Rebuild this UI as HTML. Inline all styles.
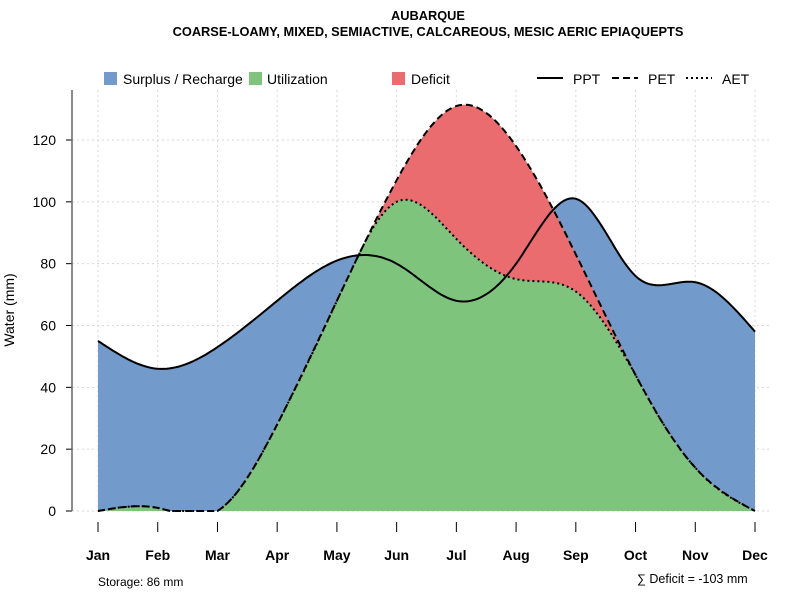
<!DOCTYPE html>
<html><head><meta charset="utf-8"><style>
body{margin:0;background:#fff;font-family:"Liberation Sans",sans-serif}
svg text{font-family:"Liberation Sans",sans-serif}
</style></head><body>
<svg id="c" width="800" height="600" xmlns="http://www.w3.org/2000/svg">
<text x="428" y="20" text-anchor="middle" font-size="12.8" font-weight="bold">AUBARQUE</text>
<text x="428" y="36" text-anchor="middle" font-size="12.8" font-weight="bold">COARSE-LOAMY, MIXED, SEMIACTIVE, CALCAREOUS, MESIC AERIC EPIAQUEPTS</text>
<g id="grid"></g><g id="areas"></g><g id="lines"></g><g id="axes"></g>
<g font-size="14">
<rect x="104" y="72" width="13" height="13" fill="#729ACA"/>
<text x="123" y="84">Surplus / Recharge</text>
<rect x="249" y="72" width="13" height="13" fill="#7FC47D"/>
<text x="267" y="84">Utilization</text>
<rect x="392" y="72" width="13" height="13" fill="#EA6C6E"/>
<text x="411" y="84">Deficit</text>
<line x1="537" y1="78" x2="563" y2="78" stroke="#000" stroke-width="2"/>
<text x="573" y="84">PPT</text>
<line x1="612" y1="78" x2="638" y2="78" stroke="#000" stroke-width="2" stroke-dasharray="7,4"/>
<text x="648" y="84">PET</text>
<line x1="686" y1="78" x2="712" y2="78" stroke="#000" stroke-width="2" stroke-dasharray="2,3"/>
<text x="722" y="84">AET</text>
</g>
<text x="14" y="310" font-size="14" text-anchor="middle" transform="rotate(-90 14 310)">Water (mm)</text>
<text x="98" y="586" font-size="12">Storage: 86 mm</text>
<text x="637" y="583" font-size="12.5">∑ Deficit = -103 mm</text>
</svg>
<script>
const months=["Jan","Feb","Mar","Apr","May","Jun","Jul","Aug","Sep","Oct","Nov","Dec"];
const ppt=[55,46,53,68,81,80,68,80,101,76,74,58];
const pet=[0,1,0,28,68,107,131,118,83,44,14,0];
const aet=[0,1,0,28,68,100,88,75,71,44,14,0];
const yTicks=[0,20,40,60,80,100,120];
const NS="http://www.w3.org/2000/svg";
const X=i=>98+i*(755-98)/11, Y=v=>511-v*(511-140)/120;
function mk(p,t,a){const e=document.createElementNS(NS,t);for(const k in a)e.setAttribute(k,a[k]);p.appendChild(e);return e;}
function spline(y){const n=y.length,m=new Array(n).fill(0),a=[],b=[],c=[],d=[];
 for(let i=1;i<n-1;i++){a[i]=1;b[i]=4;c[i]=1;d[i]=6*(y[i+1]-2*y[i]+y[i-1]);}
 const cp=[],dp=[];cp[1]=c[1]/b[1];dp[1]=d[1]/b[1];
 for(let i=2;i<n-1;i++){const den=b[i]-a[i]*cp[i-1];cp[i]=c[i]/den;dp[i]=(d[i]-a[i]*dp[i-1])/den;}
 for(let i=n-2;i>=1;i--)m[i]=dp[i]-(i<n-2?cp[i]*m[i+1]:0);
 const out=[];for(let i=0;i<n-1;i++)for(let s=0;s<20;s++){const t=s/20;
  out.push((1-t)*y[i]+t*y[i+1]+((1-t)**3-(1-t))*m[i]/6+(t**3-t)*m[i+1]/6);}
 out.push(y[n-1]);return out;}
const sx=k=>X(k/20);
const sP=spline(ppt),sE=spline(pet).map(v=>Math.max(0,v)),sA=spline(aet).map((v,k)=>Math.min(Math.max(0,v),sE[k]));
const pts=s=>s.map((v,k)=>sx(k).toFixed(1)+","+Y(v).toFixed(1)).join(" ");
const area=s=>X(0)+","+Y(0)+" "+pts(s)+" "+X(11)+","+Y(0);
const g=document.getElementById("grid"),ar=document.getElementById("areas"),ln=document.getElementById("lines"),ax=document.getElementById("axes");
months.forEach((m,i)=>{const l=mk(g,"line",{x1:X(i),x2:X(i),y1:90,y2:511,stroke:"#d8d8d8","stroke-dasharray":"2,3"});


const t=mk(ax,"line",{x1:X(i),x2:X(i),y1:522,y2:532,stroke:"#000"});


const tx=mk(ax,"text",{x:X(i),y:560,"text-anchor":"middle","font-size":"14","font-weight":"bold"});tx.textContent=m;

});
yTicks.forEach(v=>{const l=mk(g,"line",{x1:72,x2:770,y1:Y(v),y2:Y(v),stroke:"#d8d8d8","stroke-dasharray":"2,3"});


const t=mk(ax,"line",{x1:66,x2:72,y1:Y(v),y2:Y(v),stroke:"#000"});


const tx=mk(ax,"text",{x:56,y:Y(v)+5,"text-anchor":"end","font-size":"14"});tx.textContent=v;

});
const sp=mk(ax,"line",{x1:72,x2:72,y1:90,y2:511,stroke:"#666","stroke-width":"1.5"});


const a1=mk(ar,"polygon",{points:area(sP),fill:"#729ACA"});


const a2=mk(ar,"polygon",{points:area(sE),fill:"#EA6C6E"});


const a3=mk(ar,"polygon",{points:area(sA),fill:"#7FC47D"});


const l1=mk(ln,"polyline",{points:pts(sP),fill:"none",stroke:"#000","stroke-width":"2"});


const l2=mk(ln,"polyline",{points:pts(sE),fill:"none",stroke:"#000","stroke-width":"2","stroke-dasharray":"7,4"});


const l3=mk(ln,"polyline",{points:pts(sA),fill:"none",stroke:"#000","stroke-width":"2","stroke-dasharray":"2,3"});


</script>
</body></html>
